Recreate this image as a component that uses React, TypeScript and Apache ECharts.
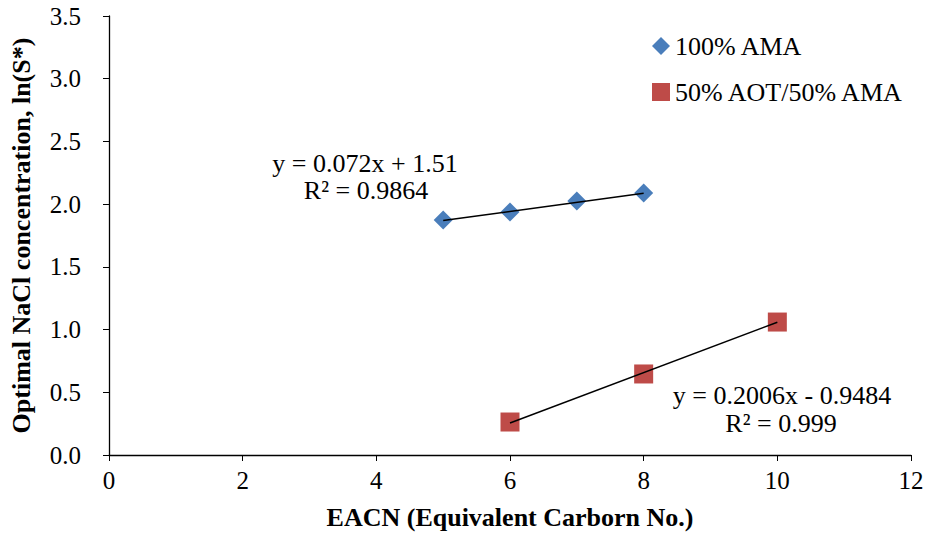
import React, { useEffect, useRef } from "react";
import * as echarts from "echarts";

const amaX = [5, 6, 7, 8];
const amaY = [1.874, 1.937, 2.025, 2.089];
const aotX = [6, 8, 10];
const aotY = [0.263, 0.646, 1.06];
const amaTrend = [[5, 1.87], [8, 2.086]];
const aotTrend = [[6, 0.255], [10, 1.058]];
const amaEq = ["y = 0.072x + 1.51", "R² = 0.9864"];
const aotEq = ["y = 0.2006x - 0.9484", "R² = 0.999"];
const seriesNames = ["100% AMA", "50% AOT/50% AMA"];

const FONT = "'Liberation Serif', 'Times New Roman', serif";

export default function App() {
  const ref = useRef<HTMLDivElement>(null);
  useEffect(() => {
    document.body.style.margin = "0";
    if (!ref.current) return;
    const chart = echarts.init(ref.current, undefined, { renderer: "svg" });
    const eqStyle = { fontFamily: FONT, fontSize: 26, fill: "#000", textAlign: "center", textVerticalAlign: "middle" };
    chart.setOption({
      animation: false,
      backgroundColor: "#ffffff",
      grid: { left: 109, right: 19, top: 16, bottom: 81 },
      legend: {
        orient: "vertical",
        left: 647,
        top: 28,
        itemGap: 20,
        itemWidth: 18,
        itemHeight: 18,
        data: seriesNames,
        textStyle: { fontFamily: FONT, fontSize: 26, color: "#000" },
      },
      xAxis: {
        type: "value",
        min: 0,
        max: 12,
        interval: 2,
        name: "EACN (Equivalent Carborn No.)",
        nameLocation: "middle",
        nameGap: 49,
        nameTextStyle: { fontFamily: FONT, fontSize: 26, fontWeight: "bold", color: "#000" },
        axisLine: { show: true, onZero: false, lineStyle: { color: "#000", width: 1.3 } },
        axisTick: { show: true, length: 6, lineStyle: { color: "#000" } },
        axisLabel: { fontFamily: FONT, fontSize: 25, color: "#000", margin: 13 },
        splitLine: { show: false },
      },
      yAxis: {
        type: "value",
        min: 0,
        max: 3.5,
        interval: 0.5,
        name: "Optimal NaCl concentration, ln(S*)",
        nameLocation: "middle",
        nameGap: 75,
        nameTextStyle: { fontFamily: FONT, fontSize: 26, fontWeight: "bold", color: "#000" },
        axisLine: { show: true, lineStyle: { color: "#000", width: 1.3 } },
        axisTick: { show: true, length: 6, lineStyle: { color: "#000" } },
        axisLabel: {
          fontFamily: FONT,
          fontSize: 25,
          color: "#000",
          margin: 28,
          formatter: (v: number) => v.toFixed(1),
        },
        splitLine: { show: false },
      },
      series: [
        {
          name: seriesNames[0],
          type: "scatter",
          symbol: "diamond",
          symbolSize: 19,
          itemStyle: { color: "#4A7EBB", opacity: 1 },
          data: amaX.map((x, i) => [x, amaY[i]]),
          z: 3,
        },
        {
          name: seriesNames[1],
          type: "scatter",
          symbol: "rect",
          symbolSize: 19,
          itemStyle: { color: "#BE4B48", opacity: 1 },
          data: aotX.map((x, i) => [x, aotY[i]]),
          z: 3,
        },
        {
          type: "line",
          data: amaTrend,
          symbol: "none",
          lineStyle: { color: "#000", width: 1.5 },
          z: 4,
        },
        {
          type: "line",
          data: aotTrend,
          symbol: "none",
          lineStyle: { color: "#000", width: 1.5 },
          z: 4,
        },
      ],
      graphic: [
        { type: "text", x: 365, y: 163, style: { ...eqStyle, text: amaEq[0] } },
        { type: "text", x: 366, y: 190, style: { ...eqStyle, text: amaEq[1] } },
        { type: "text", x: 782, y: 395, style: { ...eqStyle, text: aotEq[0] } },
        { type: "text", x: 781, y: 423, style: { ...eqStyle, text: aotEq[1] } },
      ],
    });
    return () => chart.dispose();
  }, []);
  return <div ref={ref} style={{ width: 930, height: 536 }} />;
}
